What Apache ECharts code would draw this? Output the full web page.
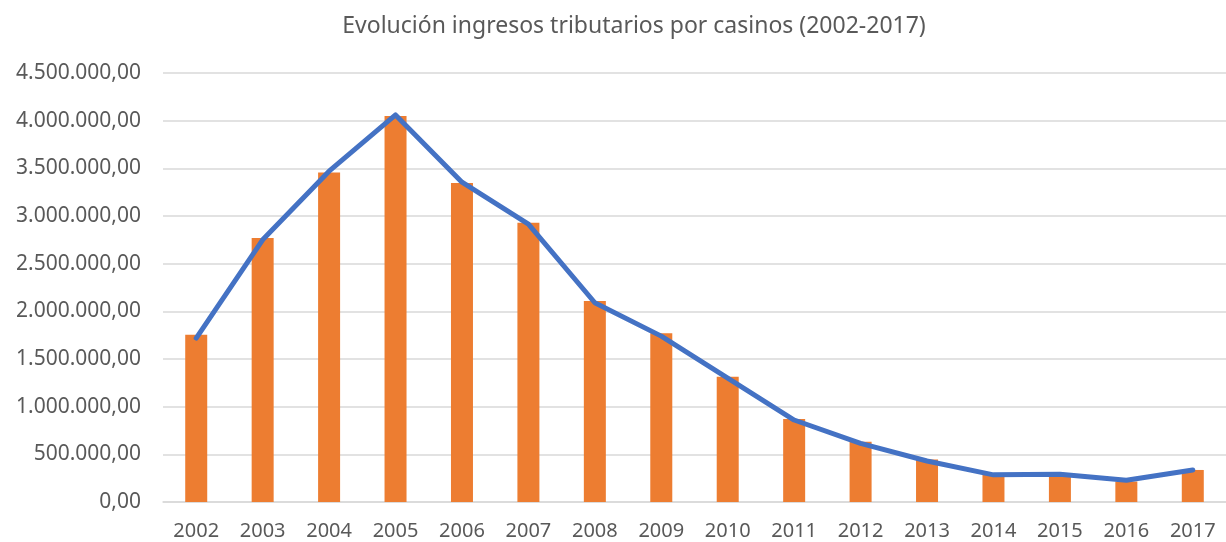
<!DOCTYPE html>
<html>
<head>
<meta charset="utf-8">
<script src="https://cdn.jsdelivr.net/npm/echarts@6/dist/echarts.min.js"></script>
<style>
  html, body { margin: 0; padding: 0; background: #fff; }
  #chart { width: 1226px; height: 542px; }
</style>
</head>
<body>
<div id="chart"></div>
<script>
const years = ['2002', '2003', '2004', '2005', '2006', '2007', '2008', '2009',
  '2010', '2011', '2012', '2013', '2014', '2015', '2016', '2017'];

// bar heights
const barValues = [1755000, 2770000, 3455000, 4050000, 3345000, 2930000, 2108000, 1769000,
  1314000, 871000, 633000, 445000, 283000, 283000, 215000, 336000];

// the blue line sits nearly on top of the bars
const lineValues = [1720000, 2750000, 3470000, 4060000, 3355000, 2915000, 2090000, 1740000,
  1300000, 860000, 615000, 430000, 285000, 290000, 228000, 336000];

const fmt = v => {
  const s = Math.round(v).toString().replace(/\B(?=(\d{3})+(?!\d))/g, '.');
  return s + ',00';
};

const font = '"Noto Sans", sans-serif';
const grey = '#595959';

const chart = echarts.init(document.getElementById('chart'));
chart.setOption({
  animation: false,
  title: {
    text: 'Evolución ingresos tributarios por casinos (2002-2017)',
    left: 629,
    top: 10,
    textAlign: 'center',
    textStyle: { color: grey, fontFamily: font, fontSize: 23, fontWeight: 'normal' }
  },
  grid: { left: 163, top: 73, width: 1072, bottom: 40 },
  xAxis: {
    type: 'category',
    data: years,
    axisTick: { show: false },
    axisLine: { lineStyle: { color: '#d9d9d9', width: 1.5 } },
    axisLabel: { color: grey, fontFamily: font, fontSize: 20, margin: 19 }
  },
  yAxis: {
    type: 'value',
    min: 0,
    max: 4500000,
    interval: 500000,
    axisLine: { show: false },
    axisTick: { show: false },
    splitLine: { lineStyle: { color: '#d9d9d9', width: 1.5 } },
    axisLabel: { color: grey, fontFamily: font, fontSize: 21, margin: 22, formatter: fmt }
  },
  series: [
    {
      type: 'bar',
      data: barValues,
      barWidth: 22,
      itemStyle: { color: '#ED7D31' }
    },
    {
      type: 'line',
      data: lineValues,
      symbol: 'none',
      lineStyle: { color: '#4472C4', width: 5, cap: 'round', join: 'round' }
    }
  ]
});
</script>
</body>
</html>
